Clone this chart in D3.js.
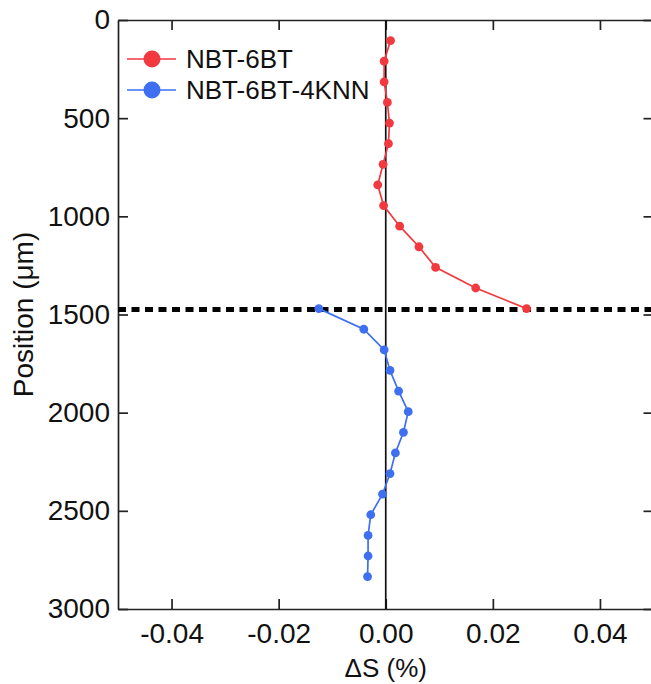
<!DOCTYPE html>
<html>
<head>
<meta charset="utf-8">
<script src="https://cdn.jsdelivr.net/npm/d3@7"></script>
<style>
  body { margin: 0; background: #fff; }
  text { font-family: "Liberation Sans", Arial, sans-serif; fill: #111; }
</style>
</head>
<body>
<div class="chart"></div>
<script>
// Daten
const posRed = [105, 210, 315, 420, 525, 630, 735, 840, 945, 1050, 1155, 1260, 1365, 1470];
const dsRed = [0.0009, -0.0003, -0.0003, 0.0003, 0.0007, 0.0005, -0.0005, -0.0015, -0.0004, 0.0026, 0.0062, 0.0093, 0.0168, 0.0263];
const posBlue = [1470, 1575, 1680, 1785, 1890, 1995, 2100, 2205, 2310, 2415, 2520, 2625, 2730, 2835];
const dsBlue = [-0.0125, -0.0041, -0.0003, 0.0008, 0.0024, 0.0042, 0.0033, 0.0018, 0.0008, -0.0006, -0.0028, -0.0033, -0.0033, -0.0034];
const seriesNames = ["NBT-6BT", "NBT-6BT-4KNN"];
const colors = ["#f2393f", "#3d6ff0"];
const xTicks = [-0.04, -0.02, 0.00, 0.02, 0.04];
const yTicks = [0, 500, 1000, 1500, 2000, 2500, 3000];
const interfacePos = 1475;

const width = 651, height = 684;
const plotLeft = 118, plotRight = 653.5, plotTop = 20, plotBottom = 609;

const svg = d3.select('.chart').append('svg')
    .attr('width', width)
    .attr('height', height);

const x = d3.scaleLinear().domain([-0.05, 0.05]).range([plotLeft, plotRight]);
const y = d3.scaleLinear().domain([0, 3000]).range([plotTop, plotBottom]);

// Achsen, Ticks nach innen
const fmt = d => d3.format('.2f')(d).replace('\u2212', '-');
const axStyle = g => {
    g.attr('font-size', null).attr('font-family', null);
    g.selectAll('.domain').attr('stroke', '#222').attr('stroke-width', 1.7);
    g.selectAll('.tick line').attr('stroke', '#222').attr('stroke-width', 1.7);
    g.selectAll('text').style('font-size', '28px').attr('fill', '#111');
};

svg.append('g')
    .attr('transform', `translate(0,${plotBottom})`)
    .call(d3.axisBottom(x).tickValues(xTicks).tickFormat(fmt).tickSizeInner(-10).tickSizeOuter(0).tickPadding(14))
    .call(axStyle);

svg.append('g')
    .attr('transform', `translate(0,${plotTop})`)
    .call(d3.axisTop(x).tickValues(xTicks).tickFormat('').tickSizeInner(-10).tickSizeOuter(0))
    .call(axStyle);

svg.append('g')
    .attr('transform', `translate(${plotLeft},0)`)
    .call(d3.axisLeft(y).tickValues(yTicks).tickFormat(d3.format('d')).tickSizeInner(-10).tickSizeOuter(0).tickPadding(8))
    .call(axStyle);

svg.append('g')
    .attr('transform', `translate(${plotRight},0)`)
    .call(d3.axisRight(y).tickValues(yTicks).tickFormat('').tickSizeInner(-10).tickSizeOuter(0))
    .call(axStyle);

// Nulllinie
svg.append('line')
    .attr('x1', x(0)).attr('x2', x(0))
    .attr('y1', plotTop).attr('y2', plotBottom)
    .attr('stroke', '#111').attr('stroke-width', 1.7);

// Grenzfläche (gepunktet)
svg.append('line')
    .attr('x1', plotLeft).attr('x2', plotRight)
    .attr('y1', y(interfacePos)).attr('y2', y(interfacePos))
    .attr('stroke', '#000').attr('stroke-width', 5)
    .attr('stroke-dasharray', '8,5.5');

// Datenreihen
const series = [
    { name: seriesNames[0], color: colors[0], pts: posRed.map((p, i) => ({ p, v: dsRed[i] })) },
    { name: seriesNames[1], color: colors[1], pts: posBlue.map((p, i) => ({ p, v: dsBlue[i] })) }
];

const line = d3.line().x(d => x(d.v)).y(d => y(d.p));

series.forEach(s => {
    svg.append('path')
        .datum(s.pts)
        .attr('d', line)
        .attr('fill', 'none')
        .attr('stroke', s.color)
        .attr('stroke-width', 1.7);

    svg.selectAll(null)
        .data(s.pts)
        .enter()
        .append('circle')
        .attr('cx', d => x(d.v))
        .attr('cy', d => y(d.p))
        .attr('r', 4.4)
        .attr('fill', s.color);
});

// Legende
const legend = svg.append('g');
series.forEach((s, i) => {
    const ly = 59 + i * 31;
    legend.append('line')
        .attr('x1', 127).attr('x2', 176)
        .attr('y1', ly).attr('y2', ly)
        .attr('stroke', s.color).attr('stroke-width', 1.7);
    legend.append('circle')
        .attr('cx', 152).attr('cy', ly)
        .attr('r', 8.5)
        .attr('fill', s.color);
    legend.append('text')
        .attr('x', 186).attr('y', ly + 9)
        .style('font-size', '26px')
        .text(s.name);
});

// Achsentitel
svg.append('text')
    .attr('x', x(0)).attr('y', 677)
    .attr('text-anchor', 'middle')
    .style('font-size', '26px')
    .text('ΔS (%)');

svg.append('text')
    .attr('transform', `translate(33,${(plotTop + plotBottom) / 2}) rotate(-90)`)
    .attr('text-anchor', 'middle')
    .style('font-size', '28px')
    .text('Position (μm)');
</script>
</body>
</html>
